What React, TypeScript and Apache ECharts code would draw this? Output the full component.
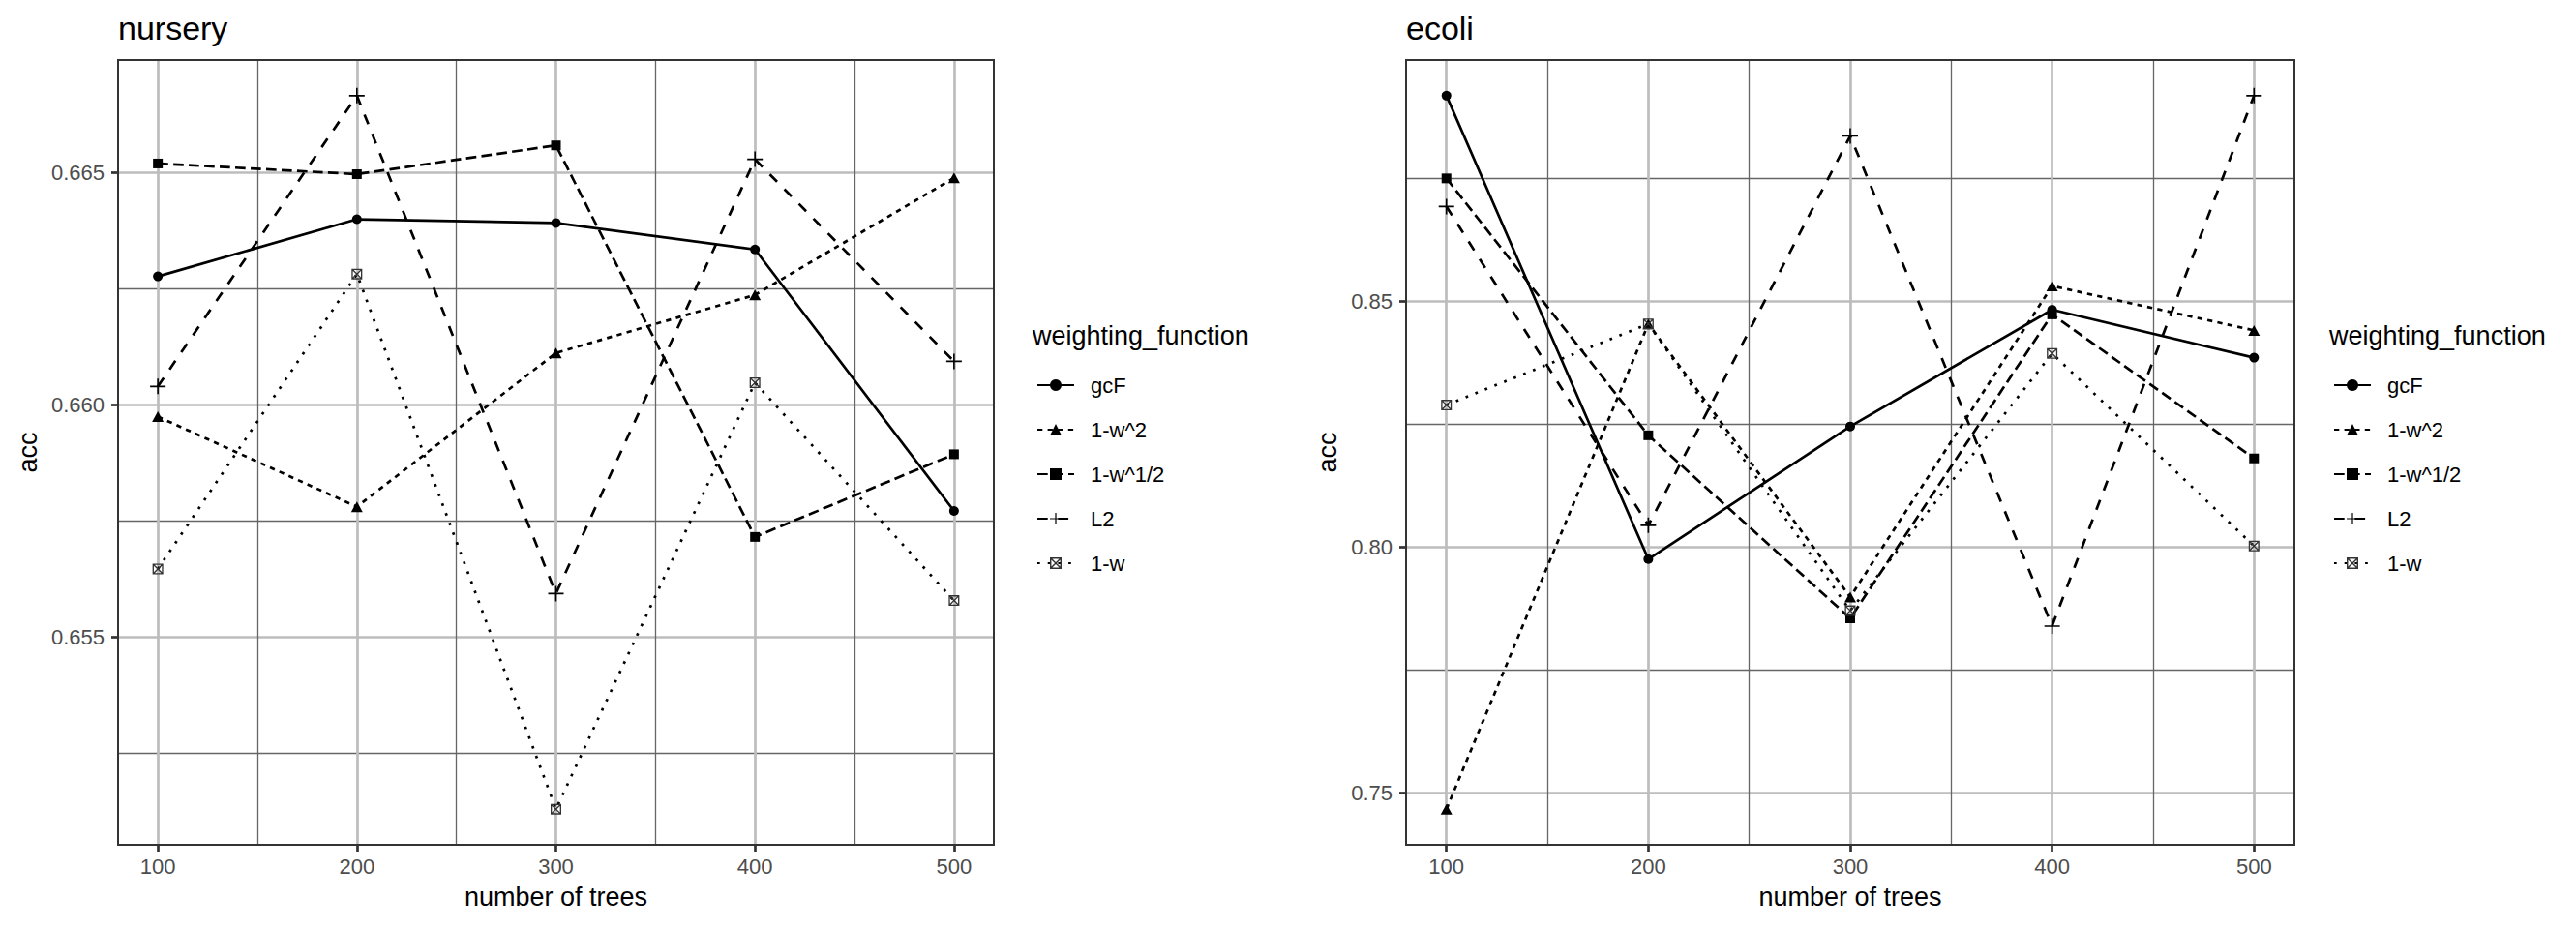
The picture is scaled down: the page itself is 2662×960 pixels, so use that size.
import { useEffect, useRef } from "react";
import * as echarts from "echarts";

// ---------- data ----------
const trees = [100, 200, 300, 400, 500];
const methods = ["gcF", "1-w^2", "1-w^1/2", "L2", "1-w"];

const nurseryGcF = [0.66277, 0.664, 0.66392, 0.66335, 0.65772];
const nurseryW2 = [0.65975, 0.65781, 0.66112, 0.66237, 0.66489];
const nurseryWHalf = [0.6652, 0.66497, 0.66559, 0.65716, 0.65894];
const nurseryL2 = [0.6604, 0.66666, 0.65594, 0.66529, 0.66094];
const nurseryW = [0.65647, 0.66282, 0.6513, 0.66048, 0.65579];

const ecoliGcF = [0.89182, 0.79759, 0.82457, 0.84831, 0.83855];
const ecoliW2 = [0.74675, 0.84542, 0.78988, 0.85313, 0.8441];
const ecoliWHalf = [0.875, 0.82276, 0.78554, 0.84735, 0.81806];
const ecoliL2 = [0.86928, 0.80446, 0.88362, 0.78397, 0.89182];
const ecoliW = [0.82891, 0.84542, 0.7871, 0.8394, 0.80024];

const xTicks = [100, 200, 300, 400, 500];
const nurseryTicks = [0.655, 0.66, 0.665];
const ecoliTicks = [0.75, 0.8, 0.85];
const xTickStep = 100;
const nurseryTickStep = 0.005;
const ecoliTickStep = 0.05;

// ---------- style ----------
const FONT = "'Liberation Sans', Arial, Helvetica, sans-serif";
const LW = 2.7;
const dashes: Record<string, any> = {
  gcF: "solid",
  "1-w^2": [5.3, 5.3],
  "1-w^1/2": [10.7, 5.3],
  L2: [10.7, 10.7],
  "1-w": [2.7, 8],
};
const PLUS = "path://M0,7.2H16V8.8H0Z M7.2,0H8.8V16H7.2Z";
const SQCROSS =
  "path://M0,0H20V20H0Z M2.4,2.4V17.6H17.6V2.4Z M2.4,2.4L4.1,2.4L17.6,15.9L17.6,17.6L15.9,17.6L2.4,4.1Z M15.9,2.4L17.6,2.4L17.6,4.1L4.1,17.6L2.4,17.6L2.4,15.9Z";
const symbols: Record<string, any> = {
  gcF: ["circle", 10],
  "1-w^2": ["triangle", [12, 11]],
  "1-w^1/2": ["rect", 10],
  L2: [PLUS, 16],
  "1-w": [SQCROSS, 11],
};

const panels = [
  { title: "nursery", left: 122, top: 62, width: 905, height: 811, nameGap: 80, legendLeft: 1071, step: nurseryTickStep, ticks: nurseryTicks, digits: 3,
    values: [nurseryGcF, nurseryW2, nurseryWHalf, nurseryL2, nurseryW] },
  { title: "ecoli", left: 1453, top: 62, width: 918, height: 811, nameGap: 68, legendLeft: 2411, step: ecoliTickStep, ticks: ecoliTicks, digits: 2,
    values: [ecoliGcF, ecoliW2, ecoliWHalf, ecoliL2, ecoliW] },
];

function expand(arr: number[]) {
  const lo = Math.min(...arr);
  const hi = Math.max(...arr);
  const pad = (hi - lo) * 0.05;
  return [lo - pad, hi + pad];
}

const onStep = (v: number, step: number) => Math.abs(v / step - Math.round(v / step)) < 1e-6;

export default function App() {
  const ref = useRef<HTMLDivElement>(null);
  useEffect(() => {
    if (!ref.current) return;
    const chart = echarts.init(ref.current, undefined, { renderer: "svg" });
    const [xMin, xMax] = expand(trees);

    const grid: any[] = [];
    const xAxis: any[] = [];
    const yAxis: any[] = [];
    const series: any[] = [];
    const title: any[] = [];
    const legend: any[] = [];
    const graphic: any[] = [];

    panels.forEach((p, pi) => {
      const [yMin, yMax] = expand(p.values.flat());
      grid.push({ left: p.left, top: p.top, width: p.width, height: p.height, show: false });
      const tickStyle = { show: true, length: 7, lineStyle: { color: "#333333", width: LW } };
      xAxis.push({
        gridIndex: pi,
        type: "value",
        min: xMin,
        max: xMax,
        splitNumber: 3,
        minInterval: xTickStep,
        maxInterval: xTickStep,
        name: "number of trees",
        nameLocation: "middle",
        nameGap: 40,
        nameTextStyle: { fontSize: 27, color: "#000", fontFamily: FONT },
        axisLine: { show: false },
        axisTick: { ...tickStyle, customValues: xTicks },
        axisLabel: {
          customValues: xTicks,
          fontSize: 22,
          color: "#4D4D4D",
          fontFamily: FONT,
          margin: 11,
          formatter: (v: number) => (onStep(v, xTickStep) ? String(Math.round(v)) : ""),
        },
        splitLine: { show: true, lineStyle: { color: "#BDBDBD", width: LW } },
        minorTick: { show: false, splitNumber: 2 },
        minorSplitLine: { show: true, lineStyle: { color: "#666666", width: 1.3 } },
      });
      yAxis.push({
        gridIndex: pi,
        type: "value",
        min: yMin,
        max: yMax,
        splitNumber: 3,
        minInterval: p.step,
        maxInterval: p.step,
        name: "acc",
        nameLocation: "middle",
        nameGap: p.nameGap,
        nameTextStyle: { fontSize: 27, color: "#000", fontFamily: FONT },
        axisLine: { show: false },
        axisTick: { ...tickStyle, customValues: p.ticks },
        axisLabel: {
          customValues: p.ticks,
          fontSize: 22,
          color: "#4D4D4D",
          fontFamily: FONT,
          margin: 14,
          formatter: (v: number) => (onStep(v, p.step) ? v.toFixed(p.digits) : ""),
        },
        splitLine: { show: true, lineStyle: { color: "#BDBDBD", width: LW } },
        minorTick: { show: false, splitNumber: 2 },
        minorSplitLine: { show: true, lineStyle: { color: "#666666", width: 1.3 } },
      });
      methods.forEach((m, mi) => {
        series.push({
          type: "line",
          name: m,
          xAxisIndex: pi,
          yAxisIndex: pi,
          data: trees.map((t, i) => [t, p.values[mi][i]]),
          symbol: symbols[m][0],
          symbolSize: symbols[m][1],
          showSymbol: true,
          lineStyle: { color: "#000", width: LW, type: dashes[m], cap: "butt" },
          itemStyle: { color: m === "1-w" ? "#333333" : "#000" },
          emphasis: { disabled: true },
          z: 3,
        });
      });
      title.push({
        text: p.title,
        left: p.left,
        top: 12,
        padding: 0,
        textStyle: { fontSize: 34, fontWeight: "normal", color: "#000", fontFamily: FONT },
      });
      title.push({
        text: "weighting_function",
        left: p.legendLeft - 4,
        top: 333,
        padding: 0,
        textStyle: { fontSize: 27, fontWeight: "normal", color: "#000", fontFamily: FONT },
      });
      legend.push({
        data: methods,
        left: p.legendLeft,
        top: 387,
        orient: "vertical",
        padding: 0,
        itemWidth: 38,
        itemHeight: 15,
        itemGap: 24,
        selectedMode: false,
        textStyle: { fontSize: 22, color: "#000", fontFamily: FONT, padding: [0, 0, 0, 12] },
      });
      graphic.push({
        type: "rect",
        silent: true,
        z: 100,
        shape: { x: p.left, y: p.top, width: p.width, height: p.height },
        style: { fill: "none", stroke: "#333333", lineWidth: 2 },
      });
    });

    chart.setOption({
      animation: false,
      backgroundColor: "#fff",
      textStyle: { fontFamily: FONT },
      title,
      legend,
      grid,
      xAxis,
      yAxis,
      series,
      graphic,
    });
    return () => chart.dispose();
  }, []);
  return <div ref={ref} style={{ width: 2662, height: 960, position: "absolute", left: 0, top: 0 }} />;
}
